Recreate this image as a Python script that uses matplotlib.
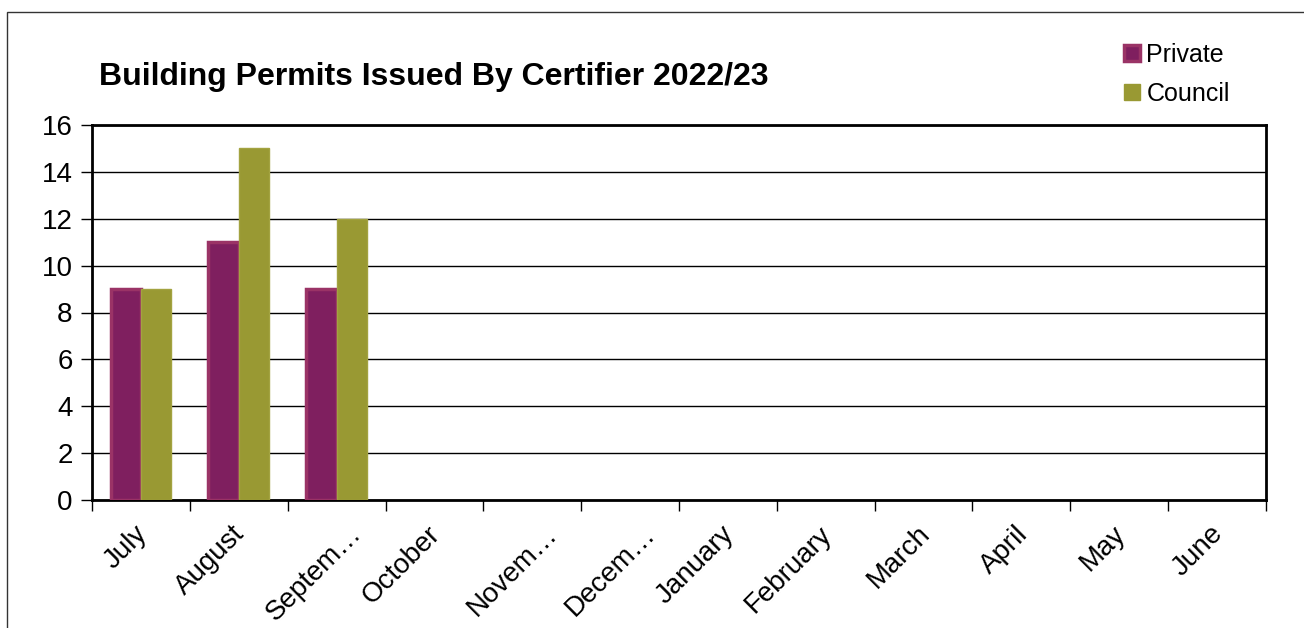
import numpy as np
import matplotlib.pyplot as plt
import matplotlib.transforms as mtransforms
from matplotlib.patches import Rectangle
from matplotlib.lines import Line2D

plt.rcParams['font.family'] = ['Liberation Sans', 'DejaVu Sans']

months = ['July', 'August', 'Septem…', 'October', 'Novem…', 'Decem…',
          'January', 'February', 'March', 'April', 'May', 'June']
private = [9, 11, 9, 0, 0, 0, 0, 0, 0, 0, 0, 0]
council = [9, 15, 12, 0, 0, 0, 0, 0, 0, 0, 0, 0]

priv_col = '#7f1f5f'
priv_edge = '#9a3366'
coun_col = '#999933'

fig = plt.figure(figsize=(13.04, 6.28), dpi=100)
ax = fig.add_axes([92/1304, 1-500/628, (1266-92)/1304, (500-125)/628])

x = np.arange(len(months))
w = 0.31
for i in range(len(months)):
    if private[i] > 0:
        ax.bar(x[i] - w/2, private[i], w, color=priv_col, edgecolor=priv_edge, linewidth=2.5, zorder=3)
    if council[i] > 0:
        ax.bar(x[i] + w/2, council[i], w, color=coun_col, edgecolor='#a3a340', linewidth=1, zorder=3)

ax.set_xlim(-0.5, len(months) - 0.5)
ax.set_ylim(0, 16)
ax.set_yticks(range(0, 17, 2))
ax.yaxis.grid(True, color='black', linewidth=1)
ax.set_axisbelow(True)
ax.tick_params(axis='y', labelsize=20, length=8, width=1, pad=6)
ax.set_xticks(x)
ax.set_xticklabels(months, rotation=45, ha='right', rotation_mode='anchor', fontsize=20)
ax.tick_params(axis='x', length=0, pad=15)
ax.set_xticks(np.arange(-0.5, len(months)), minor=True)
ax.tick_params(axis='x', which='minor', length=8, width=1)
for s in ax.spines.values():
    s.set_linewidth(2)

# nudge month labels; truncated ones sit further right
for lbl in ax.get_xticklabels():
    dx = 12 if lbl.get_text().endswith('…') else -7
    shift = mtransforms.ScaledTranslation(dx/100, 0, fig.dpi_scale_trans)
    lbl.set_transform(lbl.get_transform() + shift)

fig.text(99/1304, 1-85/628, 'Building Permits Issued By Certifier 2022/23',
         fontsize=23, fontweight='bold', ha='left', va='baseline')

handles = [Line2D([], [], marker='s', linestyle='none', markersize=12,
                  markerfacecolor=priv_col, markeredgecolor=priv_edge, markeredgewidth=2.5),
           Line2D([], [], marker='s', linestyle='none', markersize=12,
                  markerfacecolor=coun_col, markeredgecolor=coun_col)]
fig.legend(handles, ['Private', 'Council'], loc='upper left',
           bbox_to_anchor=(1094/1304, 1-20/628), frameon=False, fontsize=18,
           handletextpad=0.0, labelspacing=0.62, handlelength=1.2)

fig.add_artist(Rectangle((7/1304, -0.1), 1.2, 1-12/628+0.1, transform=fig.transFigure,
                         fill=False, edgecolor='#333333', linewidth=1))

fig.savefig('out.png', dpi=100)
